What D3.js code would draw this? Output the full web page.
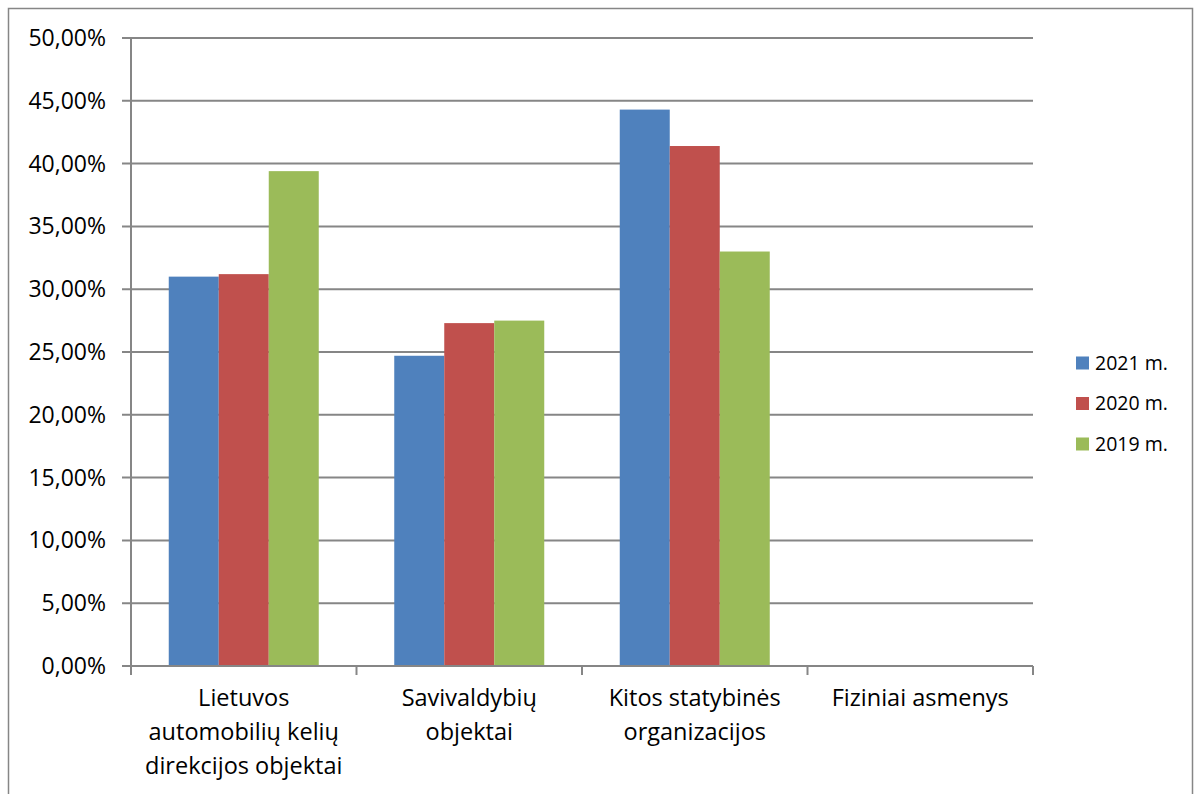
<!DOCTYPE html>
<html>
<head>
<meta charset="utf-8">
<script src="https://cdn.jsdelivr.net/npm/d3@7"></script>
<style>
  body { margin: 0; background: #fff; }
  text { font-family: "Open Sans", sans-serif; fill: #000; }
</style>
</head>
<body>
<div id="wrapper"></div>
<script>
// data
const categories = [
  ["Lietuvos", "automobilių kelių", "direkcijos objektai"],
  ["Savivaldybių", "objektai"],
  ["Kitos statybinės", "organizacijos"],
  ["Fiziniai asmenys"]
];
const seriesNames = ["2021 m.", "2020 m.", "2019 m."];
const values2021 = [31.0, 24.7, 44.3, 0.0];
const values2020 = [31.2, 27.3, 41.4, 0.05];
const values2019 = [39.4, 27.5, 33.0, 0.05];
const yTicks = [0, 5, 10, 15, 20, 25, 30, 35, 40, 45, 50];
const colors = ["#4f81bd", "#c0504d", "#9bbb59"];

const series = [values2021, values2020, values2019];

// dimensions
let dimensions = {
  width: 1198,
  height: 794,
  margin: { top: 38, right: 165, bottom: 128, left: 131 },
};
dimensions.boundedWidth = dimensions.width - dimensions.margin.left - dimensions.margin.right;
dimensions.boundedHeight = dimensions.height - dimensions.margin.top - dimensions.margin.bottom;

const wrapper = d3.select("#wrapper")
  .append("svg")
    .attr("width", dimensions.width)
    .attr("height", dimensions.height);

// outer chart border
wrapper.append("rect")
    .attr("x", 8.5)
    .attr("y", 8.5)
    .attr("width", 1184)
    .attr("height", 800)
    .attr("fill", "none")
    .attr("stroke", "#868686")
    .attr("stroke-width", 1.5);

const bounds = wrapper.append("g")
    .attr("transform", `translate(${dimensions.margin.left}, ${dimensions.margin.top})`);

// scales
const xScale = d3.scaleBand()
  .domain(d3.range(categories.length))
  .range([0, dimensions.boundedWidth])
  .padding(0);

const innerScale = d3.scaleBand()
  .domain(d3.range(seriesNames.length))
  .range([0, xScale.bandwidth()])
  .paddingInner(0)
  .paddingOuter(0.755);

const yScale = d3.scaleLinear()
  .domain([0, 50])
  .range([dimensions.boundedHeight, 0]);

// gridlines
bounds.append("g")
  .selectAll("line")
  .data(yTicks)
  .join("line")
    .attr("x1", -9)
    .attr("x2", dimensions.boundedWidth)
    .attr("y1", d => yScale(d))
    .attr("y2", d => yScale(d))
    .attr("stroke", "#868686")
    .attr("stroke-width", 2);

// y axis line and labels
bounds.append("line")
    .attr("x1", 0).attr("x2", 0)
    .attr("y1", 0).attr("y2", dimensions.boundedHeight + 9)
    .attr("stroke", "#868686")
    .attr("stroke-width", 2);

const formatPct = d => d3.format(".2f")(d).replace(".", ",") + "%";

bounds.append("g")
  .selectAll("text")
  .data(yTicks)
  .join("text")
    .attr("x", -25)
    .attr("y", d => yScale(d))
    .attr("dy", "0.35em")
    .attr("text-anchor", "end")
    .style("font-size", "23px")
    .text(formatPct);

// bars
const groups = bounds.append("g")
  .selectAll("g")
  .data(categories)
  .join("g")
    .attr("transform", (d, i) => `translate(${xScale(i)}, 0)`);

groups.selectAll("rect")
  .data((d, i) => series.map((s, j) => ({ value: s[i], j })))
  .join("rect")
    .attr("x", d => innerScale(d.j))
    .attr("y", d => yScale(d.value))
    .attr("width", innerScale.bandwidth())
    .attr("height", d => dimensions.boundedHeight - yScale(d.value))
    .attr("fill", d => colors[d.j]);

// x axis
bounds.append("line")
    .attr("x1", 0).attr("x2", dimensions.boundedWidth)
    .attr("y1", dimensions.boundedHeight).attr("y2", dimensions.boundedHeight)
    .attr("stroke", "#868686")
    .attr("stroke-width", 2);

bounds.append("g")
  .selectAll("line")
  .data(d3.range(categories.length + 1))
  .join("line")
    .attr("x1", d => d * xScale.step())
    .attr("x2", d => d * xScale.step())
    .attr("y1", dimensions.boundedHeight)
    .attr("y2", dimensions.boundedHeight + 9)
    .attr("stroke", "#868686")
    .attr("stroke-width", 2);

groups.append("text")
    .attr("x", xScale.bandwidth() / 2)
    .attr("y", dimensions.boundedHeight + 40)
    .attr("text-anchor", "middle")
    .style("font-size", "23.5px")
  .selectAll("tspan")
  .data(d => d)
  .join("tspan")
    .attr("x", xScale.bandwidth() / 2)
    .attr("dy", (d, i) => i === 0 ? 0 : 34)
    .text(d => d);

// legend
const legend = wrapper.append("g")
    .attr("transform", "translate(1076, 363)");

const legendItems = legend.selectAll("g")
  .data(seriesNames)
  .join("g")
    .attr("transform", (d, i) => `translate(0, ${i * 40.5})`);

legendItems.append("rect")
    .attr("x", 0)
    .attr("y", -6.5)
    .attr("width", 13)
    .attr("height", 13)
    .attr("fill", (d, i) => colors[i]);

legendItems.append("text")
    .attr("x", 19)
    .attr("y", 0)
    .attr("dy", "0.35em")
    .style("font-size", "19.5px")
    .text(d => d);
</script>
</body>
</html>
